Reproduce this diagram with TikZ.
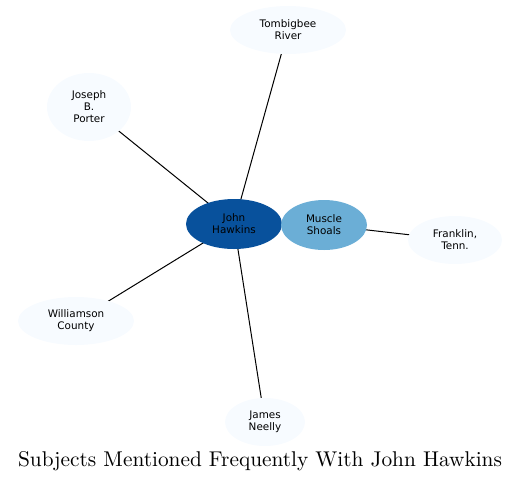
\documentclass[tikz,border=0pt]{standalone}
\usepackage{fontspec}
\newfontfamily\nodefont{DejaVu Sans}
\usetikzlibrary{shapes.geometric,backgrounds}
\definecolor{hub}{HTML}{08519C}
\definecolor{mid}{HTML}{6BAED6}
\definecolor{pale}{HTML}{F7FBFF}
\begin{document}
\begin{tikzpicture}[x=0.75pt,y=-0.75pt,
  ell/.style={ellipse,draw=none,inner sep=0pt,align=center,
    font=\nodefont\fontsize{7.8}{9}\selectfont,text=black},
  edge/.style={draw=black,line width=0.75pt}]
\useasboundingbox (0,0) rectangle (521,483);
\node[ell,fill=hub,minimum width=72pt,minimum height=37.5pt] (john) at (234,224) {John\\Hawkins};
\node[ell,fill=mid,minimum width=64.5pt,minimum height=37.5pt] (muscle) at (324,225) {Muscle\\Shoals};
\node[ell,fill=pale,minimum width=87pt,minimum height=36pt] (tomb) at (288,30) {Tombigbee\\River};
\node[ell,fill=pale,minimum width=63pt,minimum height=51pt] (joseph) at (89,107) {Joseph\\B.\\Porter};
\node[ell,fill=pale,minimum width=70.5pt,minimum height=36pt] (frank) at (455,240) {Franklin,\\Tenn.};
\node[ell,fill=pale,minimum width=87pt,minimum height=36pt] (will) at (76,321) {Williamson\\County};
\node[ell,fill=pale,minimum width=60pt,minimum height=36pt] (james) at (265,422) {James\\Neelly};
\begin{scope}[on background layer]
\draw[edge] (john.center) -- (tomb.center);
\draw[edge] (john.center) -- (joseph.center);
\draw[edge] (john.center) -- (will.center);
\draw[edge] (john.center) -- (james.center);
\draw[edge] (john.center) -- (muscle.center);
\draw[edge] (muscle.center) -- (frank.center);
\end{scope}
\node[inner sep=0pt] (title) at (260,461) {\scalebox{1.6}{\fontsize{10}{12}\selectfont Subjects Mentioned Frequently With John Hawkins}};
\end{tikzpicture}
\end{document}
